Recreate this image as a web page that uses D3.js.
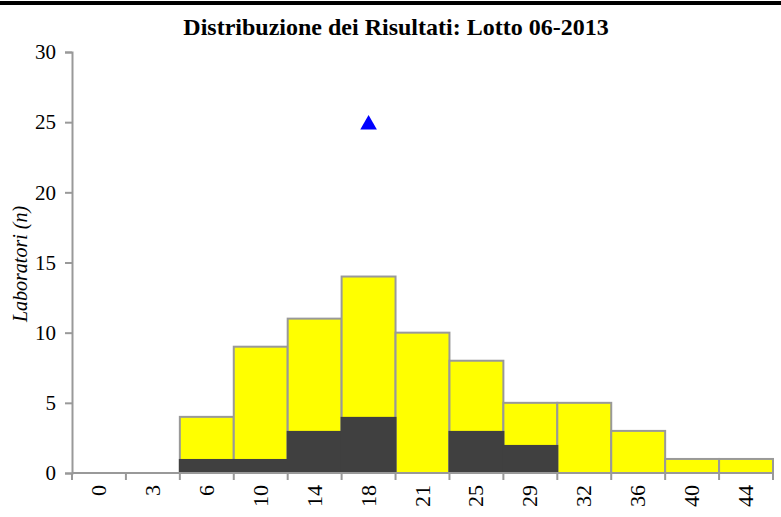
<!DOCTYPE html>
<html>
<head>
<meta charset="utf-8">
<script src="https://cdn.jsdelivr.net/npm/d3@7"></script>
<style>
  body { margin: 0; background: #fff; }
  text { font-family: "Liberation Serif", "Times New Roman", serif; }
</style>
</head>
<body>
<div id="chart"></div>
<script>
// classes of results (x categories)
const categories = ["0", "3", "6", "10", "14", "18", "21", "25", "29", "32", "36", "40", "44"]
// total labs per class
const totals = [0, 0, 4, 9, 11, 14, 10, 8, 5, 5, 3, 1, 1]
// labs out of range (dark part)
const darkPart = [0, 0, 1, 1, 3, 4, 0, 3, 2, 0, 0, 0, 0]
// own result marker
const markerCategory = "18"
const markerValue = 25
const yTicks = [0, 5, 10, 15, 20, 25, 30]

const W = 781, H = 517
const margin = { left: 72, right: 8, top: 52, bottom: 44 }

const svg = d3.select("#chart").append("svg")
    .attr("width", W)
    .attr("height", H)

// thick line on top of the page
svg.append("rect").attr("x", 0).attr("y", 1).attr("width", W).attr("height", 4).attr("fill", "#000")

svg.append("text")
    .attr("x", 396).attr("y", 35)
    .attr("text-anchor", "middle")
    .attr("font-weight", "bold")
    .attr("font-size", "24px")
    .text("Distribuzione dei Risultati: Lotto 06-2013")

const x = d3.scaleBand()
    .domain(categories)
    .range([margin.left, 773])
    .padding(0)

const y = d3.scaleLinear()
    .domain([0, 30])
    .range([473, margin.top])

const g = svg.append("g")

// bars: yellow total with grey border, dark part on top
g.selectAll("rect.tot")
    .data(categories.map((c, i) => ({ c: c, v: totals[i] })).filter(d => d.v > 0))
    .join("rect")
    .attr("class", "tot")
    .attr("x", d => x(d.c))
    .attr("y", d => y(d.v))
    .attr("width", x.bandwidth())
    .attr("height", d => y(0) - y(d.v))
    .attr("fill", "#ffff00")
    .attr("stroke", "#999")
    .attr("stroke-width", 2)

g.selectAll("rect.dark")
    .data(categories.map((c, i) => ({ c: c, v: darkPart[i] })).filter(d => d.v > 0))
    .join("rect")
    .attr("class", "dark")
    .attr("x", d => x(d.c) - 1)
    .attr("y", d => y(d.v))
    .attr("width", x.bandwidth() + 2)
    .attr("height", d => y(0) - y(d.v))
    .attr("fill", "#404040")

// y axis
const yAxis = svg.append("g")
    .attr("transform", `translate(${margin.left},0)`)
    .call(d3.axisLeft(y).tickValues(yTicks).tickSize(7).tickPadding(9))
yAxis.select(".domain").attr("stroke", "#999").attr("stroke-width", 2)
yAxis.selectAll(".tick line").attr("stroke", "#999").attr("stroke-width", 2)
yAxis.selectAll(".tick text")
    .attr("font-size", "21px")
    .attr("fill", "#000")
    .style("font-family", "Liberation Serif, serif")

// x axis with ticks at band edges
const xAxisG = svg.append("g").attr("transform", `translate(0,${y(0)})`)
xAxisG.append("line")
    .attr("x1", margin.left).attr("x2", 773)
    .attr("stroke", "#999").attr("stroke-width", 2)
const edges = categories.map(c => x(c)).concat([x(categories[categories.length - 1]) + x.bandwidth()])
xAxisG.selectAll("line.tk")
    .data(edges)
    .join("line")
    .attr("class", "tk")
    .attr("x1", d => d).attr("x2", d => d)
    .attr("y1", 0).attr("y2", 7)
    .attr("stroke", "#999").attr("stroke-width", 2)
xAxisG.selectAll("text")
    .data(categories)
    .join("text")
    .attr("transform", d => `translate(${x(d) + x.bandwidth() / 2 + 7},12) rotate(-90)`)
    .attr("text-anchor", "end")
    .attr("font-size", "22px")
    .text(d => d)

// marker triangle
const triSize = 120
const triH = Math.sqrt(triSize * 4 / Math.sqrt(3)) * Math.sqrt(3) / 2
svg.append("path")
    .attr("d", d3.symbol().type(d3.symbolTriangle).size(triSize))
    .attr("transform", `translate(${x(markerCategory) + x.bandwidth() / 2},${y(markerValue) + triH / 6})`)
    .attr("fill", "#0000ff")

// y label
svg.append("text")
    .attr("transform", "translate(27,264) rotate(-90)")
    .attr("text-anchor", "middle")
    .attr("font-style", "italic")
    .attr("font-size", "20px")
    .text("Laboratori (n)")
</script>
</body>
</html>
